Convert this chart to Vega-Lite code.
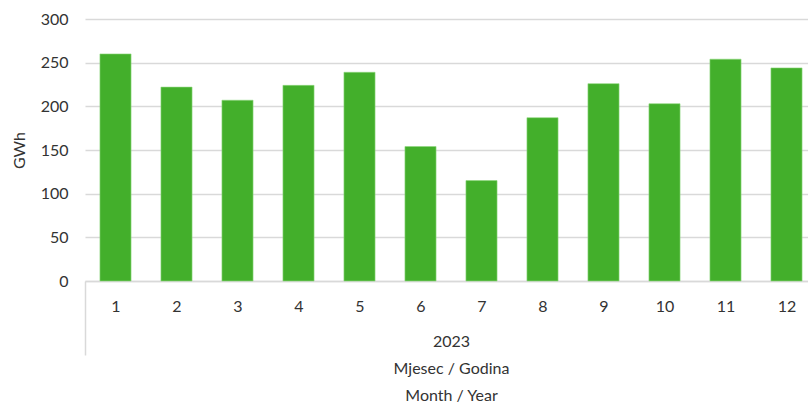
{
  "$schema": "https://vega.github.io/schema/vega-lite/v6.json",
  "width": 732,
  "height": 262,
  "autosize": "none",
  "padding": {"left": 85, "top": 19, "right": 0, "bottom": 125},
  "background": "white",
  "config": {
    "view": {"stroke": null},
    "font": "Lato",
    "axis": {"labelFont": "Lato", "titleFont": "Lato", "labelColor": "#333333", "titleColor": "#333333", "titleFontWeight": "normal"}
  },
  "data": {
    "values": [
      {"Month": 1, "GWh": 260},
      {"Month": 2, "GWh": 222},
      {"Month": 3, "GWh": 207},
      {"Month": 4, "GWh": 224},
      {"Month": 5, "GWh": 239},
      {"Month": 6, "GWh": 154},
      {"Month": 7, "GWh": 115},
      {"Month": 8, "GWh": 187},
      {"Month": 9, "GWh": 226},
      {"Month": 10, "GWh": 203},
      {"Month": 11, "GWh": 254},
      {"Month": 12, "GWh": 244}
    ]
  },
  "mark": {"type": "bar", "color": "#43af2b", "stroke": "#8fd67e", "strokeWidth": 0.6, "width": {"band": 0.51}},
  "encoding": {
    "x": {
      "field": "Month",
      "type": "ordinal",
      "scale": {"paddingInner": 0, "paddingOuter": 0},
      "axis": {
        "title": ["2023", "Mjesec / Godina", "Month / Year"],
        "titleFontSize": 16,
        "titleLineHeight": 27,
        "titleBaseline": "top",
        "titleY": 52,
        "labelAngle": 0,
        "labelFontSize": 16,
        "labelPadding": -49,
        "labelBaseline": "middle",
        "ticks": true,
        "tickBand": "extent",
        "tickSize": 74,
        "tickWidth": 1.5,
        "tickColor": {"condition": {"test": "!!datum.extra", "value": "#d9d9d9"}, "value": "transparent"},
        "domain": true,
        "domainColor": "#d9d9d9",
        "domainWidth": 1.5,
        "grid": false
      }
    },
    "y": {
      "field": "GWh",
      "type": "quantitative",
      "scale": {"domain": [0, 300], "nice": false},
      "axis": {
        "title": "GWh",
        "titleFontSize": 16,
        "titlePadding": 13,
        "values": [0, 50, 100, 150, 200, 250, 300],
        "labelFontSize": 16,
        "labelPadding": 17,
        "ticks": false,
        "domain": false,
        "grid": true,
        "gridColor": "#d9d9d9",
        "gridWidth": 1.5
      }
    }
  }
}
